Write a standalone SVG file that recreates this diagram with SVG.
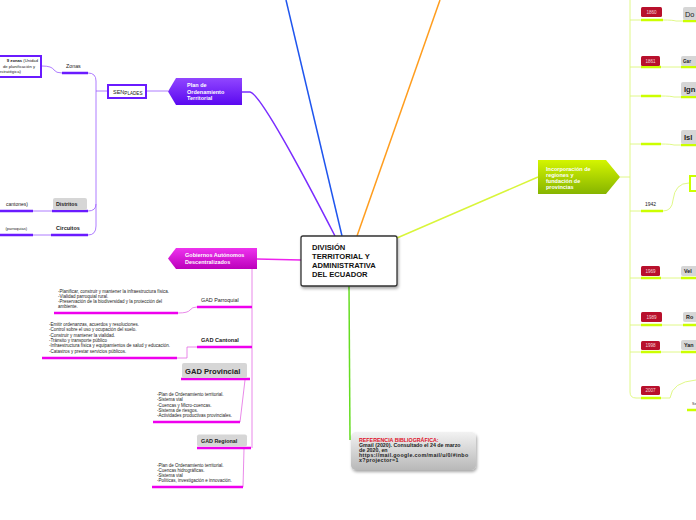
<svg xmlns="http://www.w3.org/2000/svg" width="696" height="520" viewBox="0 0 696 520">
<defs>
<linearGradient id="gPurple" x1="0" y1="0" x2="0" y2="1"><stop offset="0" stop-color="#9146ff"/><stop offset="1" stop-color="#5a08f0"/></linearGradient>
<linearGradient id="gMag" x1="0" y1="0" x2="0" y2="1"><stop offset="0" stop-color="#ee33ee"/><stop offset="1" stop-color="#bb00bb"/></linearGradient>
<linearGradient id="gLime" x1="0" y1="0" x2="0" y2="1"><stop offset="0" stop-color="#d4f500"/><stop offset="1" stop-color="#86b400"/></linearGradient>
<linearGradient id="gGrey" x1="0" y1="0" x2="0" y2="1"><stop offset="0" stop-color="#f2f2f2"/><stop offset="1" stop-color="#b8b8b8"/></linearGradient>
<filter id="sh" x="-20%" y="-20%" width="150%" height="150%"><feDropShadow dx="1" dy="2" stdDeviation="1.5" flood-color="#000" flood-opacity="0.35"/></filter>
</defs>
<style>
text{font-family:"Liberation Sans",Arial,sans-serif;}
.b{font-weight:bold;}
.wt{fill:#fff;font-weight:bold;font-size:5.5px;}
.sm{font-size:4.5px;fill:#222;}
.lp{fill:none;stroke:#9b5cff;stroke-width:0.8;}
.up{stroke:#6a1bff;stroke-width:2.5;}
.lm{fill:none;stroke:#e36be3;stroke-width:0.8;}
.um{stroke:#ee00ee;stroke-width:2.5;}
.ll{fill:none;stroke:#ddf77a;stroke-width:0.9;}
.ul{stroke:#ccff00;stroke-width:2.5;}
.gbox{fill:#d6d6d6;}
.badge{fill:#b8102c;}
.bt{fill:#f4d0d6;font-size:4.6px;text-anchor:middle;}
</style>

<g id="connectors">
<path d="M342,236 L286,0" fill="none" stroke="#1f55ee" stroke-width="1.5"/>
<path d="M357,236 L440,0" fill="none" stroke="#ff9d1e" stroke-width="1.5"/>
<path d="M242,92 L250,92 Q262,94 335,236" fill="none" stroke="#7a2cff" stroke-width="1.5"/>
<path d="M397,238 L538,177" fill="none" stroke="#d9f53a" stroke-width="1.5"/>
<path d="M349,286 L350,440" fill="none" stroke="#66dd22" stroke-width="1.5"/>
<path d="M301,260 L257,259" fill="none" stroke="#ee22ee" stroke-width="1.5"/>
<path class="lp" d="M146,91 L168,91"/>
<path class="lp" d="M107,91 L96,91"/>
<path class="lp" d="M88,73 Q96,73 96,81 L96,226 Q96,235 88,235"/>
<path class="lp" d="M96,204 Q96,211 88,211"/>
<path class="lp" d="M42,66 Q52,66 54,70 Q56,73 62,73"/>
<path class="lp" d="M33,211 L52,211"/>
<path class="lp" d="M33,235 L51,235"/>
<line class="up" x1="62" y1="73" x2="88" y2="73"/>
<line class="up" x1="52" y1="211" x2="88" y2="211"/>
<line class="up" x1="51" y1="235" x2="88" y2="235"/>
<line class="up" x1="0" y1="211" x2="33" y2="211"/>
<line class="up" x1="0" y1="235" x2="33" y2="235"/>
<path class="lm" d="M252,269 L252,448"/>
<path class="lm" d="M178,313 Q188,313 190,310 Q192,307 197,307"/>
<path class="lm" d="M177,358 L187,358 L187,347 L197,347"/>
<path class="lm" d="M245,380 L240,422"/>
<path class="lm" d="M244,449 L243,487"/>
<line class="um" x1="197" y1="307" x2="252" y2="307"/>
<line class="um" x1="54" y1="313" x2="178" y2="313"/>
<line class="um" x1="197" y1="347" x2="252" y2="347"/>
<line class="um" x1="42" y1="358" x2="177" y2="358"/>
<line class="um" x1="181" y1="379" x2="250" y2="379"/>
<line class="um" x1="153" y1="422" x2="240" y2="422"/>
<line class="um" x1="197" y1="448" x2="251" y2="448"/>
<line class="um" x1="152" y1="487" x2="243" y2="487"/>
<path class="ll" d="M630,0 L630,392 Q630,398 636,398 L641,398"/>
<path class="ll" d="M620,177 L630,177"/>
<path class="ll" d="M630,20 L641,20 M663,20 Q673,20 676,21 L683,21"/>
<path class="ll" d="M630,67 L641,67 M661,67 L681,67"/>
<path class="ll" d="M630,96 L641,96 M661,96 Q671,96 674,97 L681,97"/>
<path class="ll" d="M630,144 L641,144 M661,144 Q671,144 674,145 L681,145"/>
<path class="ll" d="M630,211 L641,211 M663,211 Q672,211 673,200 Q675,183 689,183"/>
<path class="ll" d="M630,278 L641,278 M661,278 L681,278"/>
<path class="ll" d="M630,325 L641,325 M662,325 L683,325"/>
<path class="ll" d="M630,352 L641,352 M661,352 L681,352"/>
<path class="ll" d="M661,398 L670,398 Q672,382 696,380"/>
<line class="ul" x1="641" y1="20" x2="663" y2="20"/>
<line class="ul" x1="683" y1="21" x2="696" y2="21"/>
<line class="ul" x1="641" y1="67" x2="661" y2="67"/>
<line class="ul" x1="681" y1="67" x2="696" y2="67"/>
<line class="ul" x1="641" y1="96" x2="661" y2="96"/>
<line class="ul" x1="681" y1="97" x2="696" y2="97"/>
<line class="ul" x1="641" y1="144" x2="661" y2="144"/>
<line class="ul" x1="681" y1="145" x2="696" y2="145"/>
<line class="ul" x1="641" y1="211" x2="663" y2="211"/>
<line class="ul" x1="641" y1="278" x2="661" y2="278"/>
<line class="ul" x1="681" y1="278" x2="696" y2="278"/>
<line class="ul" x1="641" y1="325" x2="662" y2="325"/>
<line class="ul" x1="683" y1="325" x2="696" y2="325"/>
<line class="ul" x1="641" y1="352" x2="661" y2="352"/>
<line class="ul" x1="681" y1="352" x2="696" y2="352"/>
<line class="ul" x1="641" y1="398" x2="661" y2="398"/>
<line class="ul" x1="687" y1="410" x2="696" y2="410"/>
</g>

<g id="main">
<rect x="301" y="236" width="96" height="50" rx="2" fill="#fff" stroke="#333" stroke-width="1.3" filter="url(#sh)"/>
<text class="b" font-size="7.6" fill="#111"><tspan x="312" y="250">DIVISIÓN</tspan><tspan x="312" y="259">TERRITORIAL Y</tspan><tspan x="312" y="268">ADMINISTRATIVA</tspan><tspan x="312" y="277">DEL ECUADOR</tspan></text>
</g>

<g id="plan">
<polygon points="176,78 242,78 242,105 176,105 168,91.5" fill="url(#gPurple)"/>
<text class="wt"><tspan x="187" y="87">Plan de</tspan><tspan x="187" y="93.5">Ordenamiento</tspan><tspan x="187" y="100">Territorial</tspan></text>
</g>

<g id="senplades">
<rect x="108" y="85" width="38" height="13" fill="#fff" stroke="#6a1bff" stroke-width="2"/>
<text x="113" y="93.5" font-size="5.5" fill="#222">SEN<tspan font-size="4.6" dy="1">PLADES</tspan></text>
</g>

<g id="zonas">
<text x="66" y="68" font-size="5.3" fill="#222">Zonas</text>
</g>

<g id="zonas-box">
<rect x="-5" y="56" width="46" height="21" fill="#fff" stroke="#6a1bff" stroke-width="2"/>
<text font-size="4.2" fill="#222" text-anchor="end"><tspan x="38" y="62"><tspan class="b">9 zonas</tspan> (Unidad</tspan><tspan x="35" y="67.5">de planificación y</tspan></text>
<text x="-1" y="73" font-size="4.2" fill="#222">estratégica)</text>
</g>

<g id="distritos">
<rect x="53" y="198" width="34" height="12" rx="2" class="gbox"/>
<text x="56" y="206" class="b" font-size="5.3" fill="#222">Distritos</text>
</g>
<g id="cantones">
<text x="28" y="206" font-size="5" fill="#222" text-anchor="end">cantones)</text>
</g>
<g id="circuitos">
<text x="56" y="230" class="b" font-size="5.5" fill="#222">Circuitos</text>
</g>
<g id="parroquias">
<text x="27" y="230" font-size="4" fill="#222" text-anchor="end">(parroquias)</text>
</g>

<g id="gad">
<polygon points="176,248 257,248 257,269 176,269 168,258.5" fill="url(#gMag)"/>
<text class="wt"><tspan x="185" y="257">Gobiernos Autónomos</tspan><tspan x="185" y="263.5">Descentralizados</tspan></text>
</g>

<g id="gad-parroquial">
<text x="201" y="302" font-size="5.4" fill="#222">GAD Parroquial</text>
</g>
<g id="parroquial-text">
<text class="sm"><tspan x="58" y="293">-Planificar, construir y mantener la infraestructura física.</tspan><tspan x="58" y="298">-Vialidad parroquial rural.</tspan><tspan x="58" y="303">-Preservación de la biodiversidad y la protección del</tspan><tspan x="58" y="308">ambiente.</tspan></text>
</g>

<g id="gad-cantonal">
<text x="201" y="342" class="b" font-size="5.6" fill="#222">GAD Cantonal</text>
</g>
<g id="cantonal-text">
<text class="sm"><tspan x="49" y="326">-Emitir ordenanzas, acuerdos y resoluciones.</tspan><tspan x="49" y="331">-Control sobre el uso y ocupación del suelo.</tspan><tspan x="49" y="336.5">-Construir y mantener la vialidad.</tspan><tspan x="49" y="342">-Tránsito y transporte público</tspan><tspan x="49" y="347">-Infraestructura física y equipamientos de salud y educación.</tspan><tspan x="49" y="352.5">-Catastros y prestar servicios públicos.</tspan></text>
</g>

<g id="gad-provincial">
<rect x="182" y="363" width="65" height="15" rx="2" class="gbox"/>
<text x="185" y="373.5" class="b" font-size="7.6" fill="#222">GAD Provincial</text>
</g>
<g id="provincial-text">
<text class="sm"><tspan x="157" y="396">-Plan de Ordenamiento territorial.</tspan><tspan x="157" y="401">-Sistema vial</tspan><tspan x="157" y="406.5">-Cuencas y Micro-cuencas.</tspan><tspan x="157" y="411.5">-Sistema de riesgos.</tspan><tspan x="157" y="417">-Actividades productivas provinciales.</tspan></text>
</g>

<g id="gad-regional">
<rect x="197" y="434.5" width="50" height="12" rx="2" class="gbox"/>
<text x="201" y="442.5" class="b" font-size="5.4" fill="#222">GAD Regional</text>
</g>
<g id="regional-text">
<text class="sm"><tspan x="157" y="467">-Plan de Ordenamiento territorial.</tspan><tspan x="157" y="472">-Cuencas hidrográficas.</tspan><tspan x="157" y="477">-Sistema vial</tspan><tspan x="157" y="482">-Políticas, investigación e innovación.</tspan></text>
</g>

<g id="referencia">
<rect x="351" y="432" width="125" height="38" rx="5" fill="url(#gGrey)" filter="url(#sh)"/>
<text class="b" font-size="5.3"><tspan x="359" y="441.5" fill="#e0102a">REFERENCIA BIBLIOGRÁFICA:</tspan><tspan x="359" y="446.5" fill="#222">Gmail (2020). Consultado el 24 de marzo</tspan><tspan x="359" y="451.5" fill="#222">de 2020, en</tspan><tspan x="359" y="457" fill="#222" letter-spacing="0.35">https://mail.google.com/mail/u/0/#inbo</tspan><tspan x="359" y="462" fill="#222" letter-spacing="0.35">x?projector=1</tspan></text>
</g>

<g id="incorporacion">
<polygon points="538,160 606,160 620,177 606,194 538,194" fill="url(#gLime)"/>
<text class="wt"><tspan x="546" y="170.5">Incorporación de</tspan><tspan x="546" y="176.5">regiones y</tspan><tspan x="546" y="182.5">fundación de</tspan><tspan x="546" y="188.5">provincias</tspan></text>
</g>

<g id="y1860"><rect x="641" y="7" width="21" height="10" rx="1.5" class="badge"/><text x="651.5" y="13.8" class="bt">1860</text></g>
<g id="do"><rect x="683" y="7" width="20" height="13" rx="2" class="gbox"/><text x="685" y="16.5" font-size="7.4" fill="#222">Do</text></g>
<g id="y1861"><rect x="641" y="56" width="19" height="10" rx="1.5" class="badge"/><text x="650.5" y="62.6" class="bt">1861</text></g>
<g id="gar"><rect x="681" y="56" width="20" height="10" rx="2" class="gbox"/><text x="683" y="63" class="b" font-size="4.6" fill="#222">Gar</text></g>
<g id="ign"><rect x="681" y="82" width="20" height="14" rx="2" class="gbox"/><text x="684" y="92" class="b" font-size="7.6" fill="#222">Ign</text></g>
<g id="isl"><rect x="681" y="130" width="20" height="14" rx="2" class="gbox"/><text x="684" y="140" class="b" font-size="7.6" fill="#222">Isl</text></g>
<g id="box1942"><rect x="690" y="176" width="12" height="15" fill="#fff" stroke="#ccff00" stroke-width="2"/></g>
<g id="y1942"><text x="645" y="206" font-size="5" fill="#222">1942</text></g>
<g id="y1969"><rect x="641" y="266" width="19" height="10" rx="1.5" class="badge"/><text x="650.5" y="272.8" class="bt">1969</text></g>
<g id="vel"><rect x="681" y="266" width="20" height="10" rx="2" class="gbox"/><text x="684" y="273.3" class="b" font-size="5.4" fill="#222">Vel</text></g>
<g id="y1989"><rect x="641" y="312" width="21" height="10" rx="1.5" class="badge"/><text x="651.5" y="318.8" class="bt">1989</text></g>
<g id="ro"><rect x="683" y="312" width="20" height="10" rx="2" class="gbox"/><text x="686" y="319.3" class="b" font-size="5.4" fill="#222">Ro</text></g>
<g id="y1998"><rect x="641" y="341" width="19" height="9" rx="1.5" class="badge"/><text x="650.5" y="347.3" class="bt">1998</text></g>
<g id="yan"><rect x="681" y="340" width="20" height="10" rx="2" class="gbox"/><text x="684" y="347.3" class="b" font-size="5.4" fill="#222">Yan</text></g>
<g id="y2007"><rect x="641" y="386" width="19" height="9" rx="1.5" class="badge"/><text x="650.5" y="392.3" class="bt">2007</text></g>
<g id="se"><text x="692" y="405" font-size="3.6" fill="#333">Se</text></g>
</svg>
